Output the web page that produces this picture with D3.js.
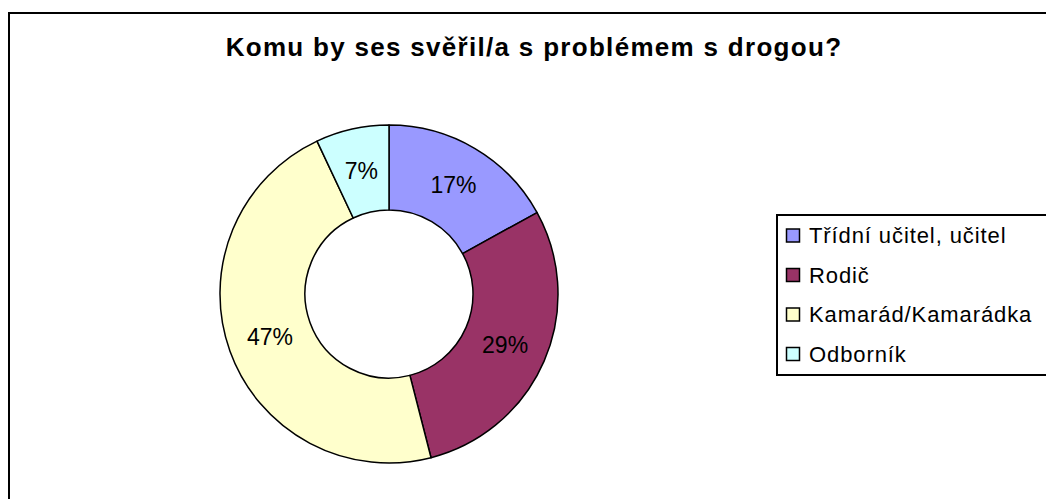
<!DOCTYPE html>
<html>
<head>
    <meta charset="UTF-8">
    <title>Komu by ses svěřil/a</title>
    <script src="https://d3js.org/d3.v7.min.js"></script>
    <style>
        body { margin: 0; background: #ffffff; }
        text { font-family: Arial, "Liberation Sans", sans-serif; }
    </style>
</head>
<body>
<svg width="1046" height="499" id="mainsvg"></svg>
<script>
    // data
    const categories = ['Třídní učitel, učitel', 'Rodič', 'Kamarád/Kamarádka', 'Odborník'];
    const shares = [17, 29, 47, 7];
    const colors = ['#9999FF', '#993366', '#FFFFCC', '#CCFFFF'];
    const title = 'Komu by ses svěřil/a s problémem s drogou?';

    const svg = d3.select('#mainsvg');
    const width = +svg.attr('width');
    const height = +svg.attr('height');

    // outer chart frame (runs off the right and bottom edge)
    svg.append('rect')
        .attr('x', 9).attr('y', 13)
        .attr('width', width + 20).attr('height', height + 20)
        .attr('fill', 'none')
        .attr('stroke', '#000')
        .attr('stroke-width', 2);

    svg.append('text')
        .attr('x', 534)
        .attr('y', 56)
        .attr('text-anchor', 'middle')
        .attr('font-size', '26px')
        .attr('font-weight', 'bold')
        .attr('letter-spacing', '1.3px')
        .attr('fill', '#000')
        .text(title);

    const cx = 389, cy = 294;
    const outerR = 169, innerR = 84;

    const pie = d3.pie().sort(null).value(d => d);
    const arc = d3.arc().innerRadius(innerR).outerRadius(outerR);

    const g = svg.append('g').attr('transform', `translate(${cx}, ${cy})`);

    const slices = g.selectAll('g.slice')
        .data(pie(shares))
        .join('g')
        .attr('class', 'slice');

    slices.append('path')
        .attr('d', arc)
        .attr('fill', (d, i) => colors[i])
        .attr('stroke', '#000')
        .attr('stroke-width', 1.5)
        .attr('stroke-linejoin', 'round');

    slices.append('text')
        .attr('transform', d => `translate(${arc.centroid(d)})`)
        .attr('text-anchor', 'middle')
        .attr('dy', '0.36em')
        .attr('font-size', '23px')
        .attr('fill', '#000')
        .text(d => d.data + '%');

    // legend
    const lg = svg.append('g').attr('transform', 'translate(777, 215)');
    lg.append('rect')
        .attr('width', 300).attr('height', 160)
        .attr('fill', '#fff')
        .attr('stroke', '#000')
        .attr('stroke-width', 2);

    const items = lg.selectAll('g.item')
        .data(categories)
        .join('g')
        .attr('class', 'item')
        .attr('transform', (d, i) => `translate(0, ${20.5 + i * 39.5})`);

    items.append('rect')
        .attr('x', 9.5).attr('y', -6.5)
        .attr('width', 13).attr('height', 13)
        .attr('fill', (d, i) => colors[i])
        .attr('stroke', '#000')
        .attr('stroke-width', 1.5);

    items.append('text')
        .attr('x', 32)
        .attr('dy', '0.36em')
        .attr('font-size', '22px')
        .attr('letter-spacing', '0.9px')
        .attr('fill', '#000')
        .text(d => d);
</script>
</body>
</html>
